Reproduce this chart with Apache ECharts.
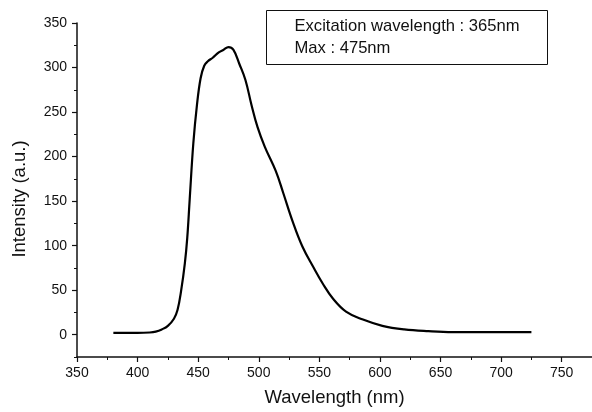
<!DOCTYPE html>
<html>
<head>
<meta charset="utf-8">
<script src="https://cdn.jsdelivr.net/npm/echarts@6/dist/echarts.min.js"></script>
<style>html,body{margin:0;padding:0;background:#fff}#c{width:592px;height:412px}</style>
</head>
<body>
<div id="c"></div>
<script>
var wavelengths = [380, 390, 400, 410, 415, 420, 425, 430, 433, 436, 439, 441, 443, 446, 449, 452, 455, 458, 462, 467, 471, 475, 479, 484, 489, 494, 499, 505, 514, 520, 528, 536, 545, 553, 561, 572, 586, 602, 620, 640, 660, 680, 700, 725];
var intensity   = [2, 2, 2, 2.5, 3.5, 6, 10, 18, 28, 50, 80, 109, 152, 215, 258, 288, 302, 307, 311, 317, 320, 323, 320, 304, 286, 258, 233, 211, 184, 160, 127, 99, 76, 57, 41, 26, 17, 10, 6, 4, 3, 3, 3, 3];
var xMajorTicks = [350, 400, 450, 500, 550, 600, 650, 700, 750];
var xMinorTicks = [375, 425, 475, 525, 575, 625, 675, 725, 775];
var yMajorTicks = [0, 50, 100, 150, 200, 250, 300, 350];
var yMinorTicks = [-25, 25, 75, 125, 175, 225, 275, 325];
var xTitle = 'Wavelength (nm)';
var yTitle = 'Intensity (a.u.)';
var noteLines = ['Excitation wavelength : 365nm', 'Max : 475nm'];

var points = wavelengths.map(function (w, i) { return [w, intensity[i]]; });
var font = '"Liberation Sans", Arial, sans-serif';
var chart = echarts.init(document.getElementById('c'), null, {renderer: 'canvas'});
chart.setOption({
  animation: false,
  backgroundColor: '#fff',
  grid: {left: 77, right: 0, top: 23, bottom: 51, containLabel: false},
  xAxis: [{
    type: 'value', min: 350, max: 775, position: 'bottom',
    name: xTitle, nameLocation: 'middle', nameGap: 31,
    nameTextStyle: {fontFamily: font, fontSize: 18.5, color: '#111'},
    axisLine: {show: true, onZero: false, lineStyle: {color: '#111', width: 1.5}},
    axisTick: {show: true, inside: false, length: 5, customValues: xMajorTicks, lineStyle: {color: '#111', width: 1.2}},
    axisLabel: {show: true, margin: 9, customValues: xMajorTicks, fontFamily: font, fontSize: 14, color: '#111'},
    splitLine: {show: false}
  }, {
    type: 'value', min: 350, max: 775, position: 'bottom',
    axisLine: {show: false, onZero: false},
    axisTick: {show: true, length: 3, customValues: xMinorTicks, lineStyle: {color: '#111', width: 1}},
    axisLabel: {show: false},
    splitLine: {show: false}
  }],
  yAxis: [{
    type: 'value', min: -25, max: 350, position: 'left',
    axisLine: {show: true, onZero: false, lineStyle: {color: '#111', width: 1.5}},
    axisTick: {show: true, length: 5, customValues: yMajorTicks, lineStyle: {color: '#111', width: 1.2}},
    axisLabel: {show: true, margin: 10, customValues: yMajorTicks, fontFamily: font, fontSize: 14, color: '#111'},
    splitLine: {show: false}
  }, {
    type: 'value', min: -25, max: 350, position: 'left',
    axisLine: {show: false, onZero: false},
    axisTick: {show: true, length: 3, customValues: yMinorTicks, lineStyle: {color: '#111', width: 1}},
    axisLabel: {show: false},
    splitLine: {show: false}
  }],
  series: [{
    type: 'line', xAxisIndex: 0, yAxisIndex: 0,
    data: points, showSymbol: false, smooth: 0.4,
    lineStyle: {color: '#000', width: 2.2}
  }],
  graphic: [{
    type: 'text', x: 20, y: 199, rotation: Math.PI / 2,
    style: {text: yTitle, fontFamily: font, fontSize: 18.5, fill: '#111', align: 'center', verticalAlign: 'middle'}
  }, {
    type: 'group', left: 266, top: 10,
    children: [{
      type: 'rect', shape: {x: 0, y: 0, width: 281, height: 54},
      style: {fill: '#fff', stroke: '#111', lineWidth: 1}
    }, {
      type: 'text', x: 28, y: 16,
      style: {text: noteLines[0], fontFamily: font, fontSize: 16.6, fill: '#111', verticalAlign: 'middle'}
    }, {
      type: 'text', x: 28, y: 38,
      style: {text: noteLines[1], fontFamily: font, fontSize: 16.6, fill: '#111', verticalAlign: 'middle'}
    }]
  }]
});
</script>
</body>
</html>
